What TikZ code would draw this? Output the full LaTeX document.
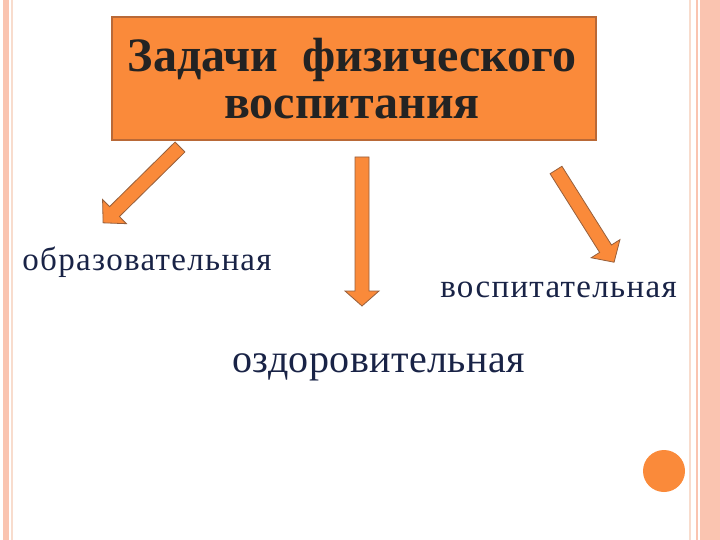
\documentclass[tikz,border=0pt]{standalone}
\usepackage{fontspec}
\setmainfont{Liberation Serif}
\newfontfamily\labelfont[LetterSpace=4]{Liberation Serif}
\newfontfamily\bigfont[LetterSpace=1]{Liberation Serif}
\definecolor{boxorange}{RGB}{250,138,58}
\definecolor{boxedge}{RGB}{185,105,55}
\definecolor{arrowedge}{RGB}{150,95,60}
\definecolor{salmon}{RGB}{250,196,176}
\definecolor{paleline}{RGB}{248,220,205}
\definecolor{inkblue}{RGB}{25,35,70}
\definecolor{titleink}{RGB}{35,35,35}
\tikzset{
  titlebox/.style={draw=boxedge, line width=1.2pt, fill=boxorange, minimum width=484pt, minimum height=123pt, inner sep=0pt},
  titletext/.style={font=\fontsize{48}{54}\selectfont\bfseries, text=titleink, inner sep=0pt, anchor=base},
  labeltext/.style={text=inkblue, inner sep=0pt, anchor=base},
  blockarr/.style={draw=arrowedge, line width=0.8pt, fill=boxorange, line join=miter},
}
\newcommand\myBlockArrow[5]{%
  \begin{scope}[shift={(#1)},rotate=#2]
    \draw[blockarr] (0,7) -- ({#3-#4},7) -- ({#3-#4},#5) -- (#3,0) -- ({#3-#4},-#5) -- ({#3-#4},-7) -- (0,-7) -- cycle;
  \end{scope}}
\begin{document}
\begin{tikzpicture}[x=1pt,y=-1pt]
\useasboundingbox (0,0) rectangle (720,540);
\fill[white] (0,0) rectangle (720,540);
% side stripes
\fill[salmon] (3,0) rectangle (9,540);
\fill[paleline] (11,0) rectangle (13,540);
\fill[paleline] (688.5,0) rectangle (691,540);
\fill[salmon] (696,0) rectangle (698,540);
\fill[salmon] (700,0) rectangle (720,540);
% title box
\node[titlebox] (box) at (354,78.5) {};
\node[titletext] (t1) at (352,72) {Задачи\ \ физического};
\node[titletext] (t2) at (352,119) {воспитания};
% arrows
\coordinate (lt) at (180,147);
\coordinate (mt) at (362,157);
\coordinate (rt) at (556,170);
\myBlockArrow{lt}{224.6}{108}{16}{17}
\myBlockArrow{mt}{270}{149}{15}{17}
\myBlockArrow{rt}{-57.8}{109}{16}{17}
% labels
\node[labeltext, font=\labelfont\fontsize{33}{38}\selectfont] (edu) at (147,270) {образовательная};
\node[labeltext, font=\labelfont\fontsize{33}{38}\selectfont] (vos) at (558.5,297) {воспитательная};
\node[labeltext, font=\bigfont\fontsize{40}{46}\selectfont] (ozd) at (378.5,372) {оздоровительная};
% decorative circle
\fill[boxorange] (664,471) circle (21);
\end{tikzpicture}
\end{document}
